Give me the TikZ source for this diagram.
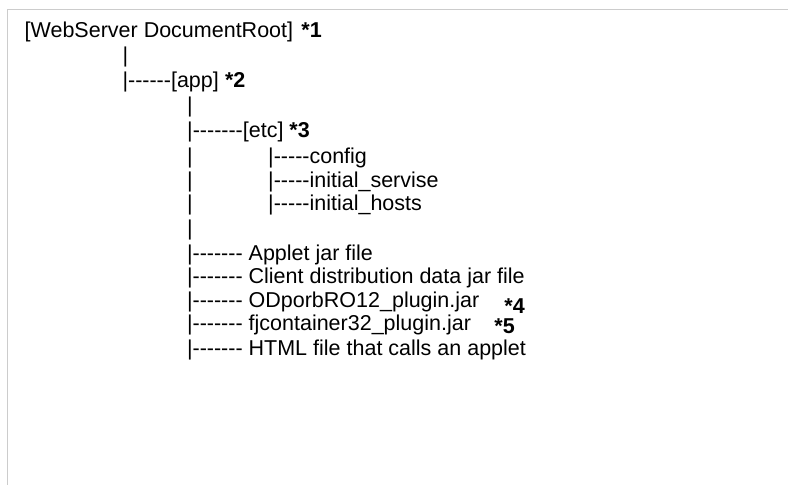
\documentclass[tikz,border=0pt]{standalone}
\usepackage{fontspec}
\setmainfont{Liberation Sans}[Ligatures={TeXOff,CommonOff}]
\definecolor{framegray}{HTML}{CCCCCC}
\begin{document}
\begin{tikzpicture}[x=1pt,y=-1pt,
  txt/.style={anchor=base west, inner sep=0pt, outer sep=0pt,
    font=\fontsize{21.5pt}{24pt}\selectfont},
  note/.style={txt, font=\fontsize{21.5pt}{24pt}\selectfont\bfseries}]
\useasboundingbox (0,0) rectangle (788,485);
% page frame
\draw[framegray, line width=1.2pt] (7.2,485) -- (7.2,9.3) -- (788,9.3);

% root
\node[txt]  (root)  at (24.7,37)   {[WebServer DocumentRoot]};
\node[note] (n1)    at (301.4,37)  {*1};
\node[txt]  (r1)    at (122.5,62.5) {|};
% app
\node[txt]  (app)   at (122.5,87.5) {|------[app]};
\node[note] (n2)    at (225,87.5)  {*2};
\node[txt]  (a1)    at (187.2,112.5) {|};
% etc
\node[txt]  (etc)   at (187.2,137) {|-------[etc]};
\node[note] (n3)    at (289.4,137) {*3};
\node[txt]  (a2)    at (187.2,163.5) {|};
\node[txt]  (cfg)   at (268.2,163.5) {|-----config};
\node[txt]  (a3)    at (187.2,187.5) {|};
\node[txt]  (srv)   at (268.2,187.5) {|-----initial\_servise};
\node[txt]  (a4)    at (187.2,210.5) {|};
\node[txt]  (hst)   at (268.2,210.5) {|-----initial\_hosts};
\node[txt]  (a5)    at (187.2,235.5) {|};
% files in app
\node[txt]  (f1)    at (187,260.5) {|------- Applet jar file};
\node[txt]  (f2)    at (187,283.5) {|------- Client distribution data jar file};
\node[txt]  (f3)    at (187,307)   {|------- ODporbRO12\_plugin.jar};
\node[note] (n4)    at (504.4,313) {*4};
\node[txt]  (f4)    at (187,330.5) {|------- fjcontainer32\_plugin.jar};
\node[note] (n5)    at (494.4,333) {*5};
\node[txt]  (f5)    at (187,355)   {|------- HTML file that calls an applet};
\end{tikzpicture}
\end{document}
